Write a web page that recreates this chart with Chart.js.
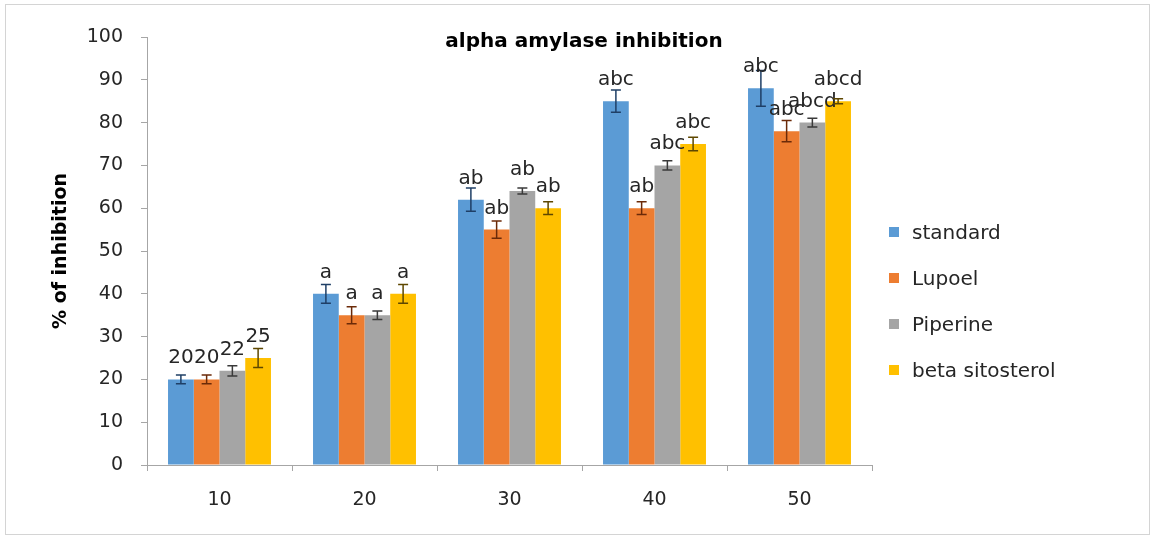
<!DOCTYPE html>
<html>
<head>
<meta charset="utf-8">
<script src="https://cdn.jsdelivr.net/npm/chart.js@4.4.0/dist/chart.umd.min.js"></script>
<style>
  body { margin: 0; background: #fff; }
  #wrap { position: relative; width: 1157px; height: 540px; font-family: "DejaVu Sans", sans-serif; }
  #frame { position: absolute; left: 5px; top: 4px; width: 1145px; height: 531px; border: 1px solid #d4d4d4; box-sizing: border-box; }
  #legend { position: absolute; left: 889px; top: 209px; }
  .item { display: flex; align-items: center; height: 46px; font-size: 20px; color: #262626; }
  .item span { display: inline-block; width: 10px; height: 10px; margin-right: 13px; }
  canvas { position: absolute; left: 0; top: 0; }
</style>
</head>
<body>
<div id="wrap">
  <div id="frame"></div>
  <canvas id="chart" width="1157" height="540"></canvas>
  <div id="legend"></div>
</div>
<script>
// categories (concentration)
const doses = ['10', '20', '30', '40', '50'];

// series values (% of inhibition)
const standard = [20, 40, 62, 85, 88];
const lupoel = [20, 35, 55, 60, 78];
const piperine = [22, 35, 64, 70, 80];
const betaSitosterol = [25, 40, 60, 75, 85];

// error bars
const standardErr = [1, 2.2, 2.7, 2.6, 4.2];
const lupoelErr = [1, 2, 2, 1.5, 2.5];
const piperineErr = [1.2, 1, 0.7, 1.1, 1];
const betaErr = [2.2, 2.2, 1.5, 1.6, 0.6];

// labels printed over the bars
const standardLabels = ['20', 'a', 'ab', 'abc', 'abc'];
const lupoelLabels = ['20', 'a', 'ab', 'ab', 'abc'];
const piperineLabels = ['22', 'a', 'ab', 'abc', 'abcd'];
const betaLabels = ['25', 'a', 'ab', 'abc', 'abcd'];

const seriesNames = ['standard', 'Lupoel', 'Piperine', 'beta sitosterol'];
const colors = ['#5B9BD5', '#ED7D31', '#A5A5A5', '#FFC000'];
const errColors = ['#1F3F66', '#6B2A08', '#3A3A3A', '#5E4700'];

const FONT = '"DejaVu Sans", sans-serif';

// error bars, letters and the title
const extras = {
  id: 'extras',
  afterDatasetsDraw(chart) {
    const ctx = chart.ctx;
    const y = chart.scales.y;
    chart.data.datasets.forEach((ds, i) => {
      const meta = chart.getDatasetMeta(i);
      meta.data.forEach((bar, j) => {
        const v = ds.data[j], e = ds.errors[j];
        const top = y.getPixelForValue(v + e), bot = y.getPixelForValue(v - e);
        ctx.save();
        ctx.strokeStyle = ds.errColor;
        ctx.lineWidth = 1.5;
        ctx.beginPath();
        ctx.moveTo(bar.x, top); ctx.lineTo(bar.x, bot);
        ctx.moveTo(bar.x - 5, top); ctx.lineTo(bar.x + 5, top);
        ctx.moveTo(bar.x - 5, bot); ctx.lineTo(bar.x + 5, bot);
        ctx.stroke();
        ctx.fillStyle = '#262626';
        ctx.font = '20px ' + FONT;
        ctx.textAlign = 'center';
        ctx.textBaseline = 'alphabetic';
        ctx.fillText(ds.letters[j], bar.x, bar.y - 16);
        ctx.restore();
      });
    });
    ctx.save();
    ctx.fillStyle = '#000';
    ctx.font = 'bold 20px ' + FONT;
    ctx.textAlign = 'center';
    ctx.textBaseline = 'middle';
    ctx.fillText('alpha amylase inhibition', 584, 42);
    ctx.restore();
  }
};

const values = [standard, lupoel, piperine, betaSitosterol];
const errs = [standardErr, lupoelErr, piperineErr, betaErr];
const letters = [standardLabels, lupoelLabels, piperineLabels, betaLabels];

new Chart(document.getElementById('chart'), {
  type: 'bar',
  data: {
    labels: doses,
    datasets: seriesNames.map((name, i) => ({
      label: name,
      data: values[i],
      errors: errs[i],
      letters: letters[i],
      errColor: errColors[i],
      backgroundColor: colors[i],
      categoryPercentage: 0.71,
      barPercentage: 1.0
    }))
  },
  options: {
    responsive: false,
    animation: false,
    layout: { padding: { left: 42, top: 37, right: 285, bottom: 0 } },
    plugins: { legend: { display: false }, tooltip: { enabled: false } },
    scales: {
      x: {
        grid: { drawOnChartArea: false, tickLength: 6, color: '#a6a6a6', offset: true },
        border: { color: '#a6a6a6' },
        ticks: { color: '#262626', font: { family: FONT, size: 19 }, padding: 18 },
        afterFit: s => { s.height = 75; }
      },
      y: {
        min: 0, max: 100,
        ticks: { stepSize: 10, color: '#262626', font: { family: FONT, size: 19 }, padding: 18 },
        grid: { drawOnChartArea: false, tickLength: 6, color: '#a6a6a6' },
        border: { color: '#a6a6a6' },
        title: { display: true, text: '% of inhibition', color: '#000', font: { family: FONT, size: 19, weight: 'bold' }, padding: { top: 8 } },
        afterFit: s => { s.width = 105; }
      }
    }
  },
  plugins: [extras]
});

// legend
const legend = document.getElementById('legend');
seriesNames.forEach((name, i) => {
  const row = document.createElement('div');
  row.className = 'item';
  row.innerHTML = '<span style="background:' + colors[i] + '"></span>' + name;
  legend.appendChild(row);
});
</script>
</body>
</html>
